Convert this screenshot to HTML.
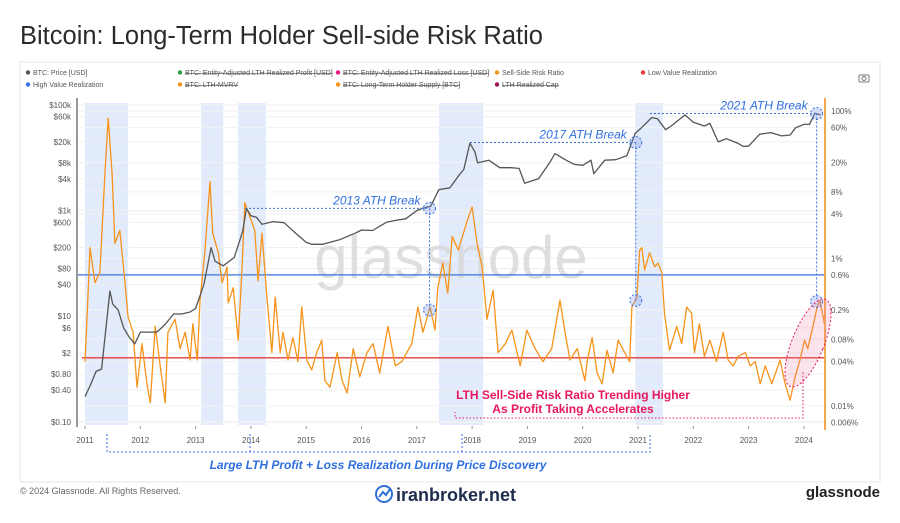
<!DOCTYPE html>
<html><head><meta charset="utf-8"><style>
body{margin:0;background:#fff;width:900px;height:518px;overflow:hidden;font-family:"Liberation Sans",sans-serif;}
</style></head><body>
<svg id="c" width="900" height="518" viewBox="0 0 900 518" xmlns="http://www.w3.org/2000/svg" font-family="Liberation Sans, sans-serif">
<text x="20" y="44" font-size="25.5" fill="#2b2b2b">Bitcoin: Long-Term Holder Sell-side Risk Ratio</text>
<rect x="20" y="62" width="860" height="420" fill="none" stroke="#e6e6e6"/>
<g id="legend" font-size="7" fill="#555"></g>
<g><rect x="859" y="75" width="10" height="7" rx="1" fill="none" stroke="#777"/><circle cx="864" cy="78.5" r="2" fill="none" stroke="#777"/></g>
<g id="bands"></g><g id="grid"></g>
<text x="451" y="278" font-size="60" fill="#d8d8d8" text-anchor="middle" opacity="0.8">glassnode</text>
<g id="series"></g><g id="axes"></g><g id="ann"></g>
<text x="20" y="494" font-size="9" fill="#666">© 2024 Glassnode. All Rights Reserved.</text>
<g><circle cx="384" cy="494" r="8" fill="none" stroke="#2f6fd6" stroke-width="2"/><path d="M379 497 L383 492 L386 495 L390 489" stroke="#2f6fd6" stroke-width="2" fill="none"/><text x="396" y="501" font-size="18" font-weight="bold" fill="#1f2d4d">iranbroker.net</text></g>
<text x="880" y="497" font-size="15" font-weight="bold" fill="#222" text-anchor="end">glassnode</text>
</svg>
<script>
const priceYears=[2011.0,2011.1,2011.2,2011.3,2011.42,2011.45,2011.5,2011.6,2011.7,2011.8,2011.9,2012.0,2012.15,2012.3,2012.45,2012.6,2012.75,2012.9,2013.0,2013.15,2013.28,2013.35,2013.5,2013.7,2013.85,2013.92,2014.0,2014.1,2014.2,2014.4,2014.6,2014.8,2015.0,2015.1,2015.3,2015.6,2015.9,2016.0,2016.2,2016.45,2016.6,2016.8,2017.0,2017.1,2017.25,2017.4,2017.6,2017.75,2017.85,2017.96,2018.05,2018.1,2018.3,2018.5,2018.7,2018.85,2018.95,2019.2,2019.4,2019.5,2019.7,2019.85,2020.0,2020.15,2020.2,2020.4,2020.6,2020.8,2020.95,2021.05,2021.25,2021.35,2021.5,2021.6,2021.85,2022.0,2022.2,2022.3,2022.45,2022.6,2022.8,2022.9,2023.0,2023.2,2023.4,2023.6,2023.75,2023.85,2024.0,2024.1,2024.2,2024.3];
const priceValues=[0.3,0.5,0.9,1.0,15,30,17,13,6,4,3,5,5,5,7,11,11,12,14,40,200,110,90,130,400,1100,800,750,550,620,590,380,250,230,230,280,380,430,420,600,650,700,1000,1100,1200,2500,2700,4500,6000,19000,13000,8000,9000,6500,6500,6300,3300,4000,8000,12000,9000,7500,7200,9000,5000,9000,9200,11000,29000,36000,58000,55000,34000,40000,65000,47000,40000,45000,20000,23000,19000,16500,16600,28000,30000,26000,27000,37000,43000,43000,70000,65000];
const riskYears=[2011.0,2011.05,2011.09,2011.18,2011.27,2011.36,2011.42,2011.49,2011.54,2011.63,2011.72,2011.78,2011.87,2011.94,2012.03,2012.12,2012.18,2012.27,2012.36,2012.45,2012.5,2012.63,2012.72,2012.81,2012.9,2012.95,2013.03,2013.08,2013.17,2013.26,2013.31,2013.41,2013.48,2013.57,2013.59,2013.68,2013.77,2013.84,2013.89,2013.98,2014.07,2014.13,2014.2,2014.29,2014.38,2014.44,2014.53,2014.58,2014.67,2014.76,2014.85,2014.92,2015.01,2015.1,2015.19,2015.28,2015.34,2015.43,2015.56,2015.65,2015.74,2015.85,2015.97,2016.1,2016.21,2016.33,2016.48,2016.61,2016.73,2016.82,2016.91,2017.02,2017.11,2017.24,2017.33,2017.38,2017.47,2017.56,2017.64,2017.75,2017.91,2018.0,2018.09,2018.18,2018.27,2018.38,2018.47,2018.6,2018.72,2018.87,2018.99,2019.14,2019.28,2019.44,2019.59,2019.68,2019.77,2019.9,2020.04,2020.08,2020.17,2020.26,2020.35,2020.44,2020.55,2020.64,2020.76,2020.85,2020.89,2020.98,2021.03,2021.07,2021.12,2021.21,2021.3,2021.36,2021.43,2021.48,2021.57,2021.7,2021.79,2021.88,2021.97,2022.02,2022.11,2022.2,2022.3,2022.42,2022.54,2022.63,2022.72,2022.81,2022.94,2023.03,2023.12,2023.21,2023.3,2023.42,2023.57,2023.66,2023.75,2023.84,2023.93,2024.01,2024.07,2024.14,2024.24,2024.29,2024.38];
const riskValues=[0.04,0.27,1.4,0.47,0.65,14,80,14,1.6,2.4,0.5,0.16,0.1,0.018,0.07,0.02,0.011,0.12,0.035,0.011,0.1,0.15,0.06,0.1,0.042,0.13,0.042,0.27,1.3,11,2.2,1.2,0.47,0.77,0.25,0.4,0.078,0.77,5.7,3.7,2.4,0.5,2.2,0.3,0.053,0.3,0.053,0.1,0.042,0.085,0.04,0.22,0.042,0.031,0.053,0.078,0.022,0.018,0.053,0.022,0.015,0.06,0.025,0.053,0.07,0.028,0.12,0.035,0.04,0.053,0.07,0.22,0.1,0.22,0.107,0.4,0.87,0.34,2,1.3,3.2,5,1.6,0.77,0.15,0.37,0.053,0.07,0.107,0.035,0.107,0.06,0.04,0.06,0.27,0.1,0.042,0.06,0.022,0.04,0.085,0.028,0.02,0.057,0.028,0.078,0.053,0.04,0.22,0.3,1.3,1.4,0.7,1.2,0.77,0.87,0.65,0.18,0.057,0.12,0.07,0.22,0.18,0.053,0.13,0.047,0.078,0.04,0.1,0.042,0.035,0.047,0.053,0.035,0.04,0.02,0.035,0.02,0.042,0.02,0.012,0.025,0.042,0.078,0.06,0.1,0.22,0.27,0.12];
const xTickYears=[2011,2012,2013,2014,2015,2016,2017,2018,2019,2020,2021,2022,2023,2024];
const leftTickValues=[100000,60000,20000,8000,4000,1000,600,200,80,40,10,6,2,0.8,0.4,0.1];
const leftTickLabels=["$100k","$60k","$20k","$8k","$4k","$1k","$600","$200","$80","$40","$10","$6","$2","$0.80","$0.40","$0.10"];
const rightTickValues=[100,60,20,8,4,1,0.6,0.2,0.08,0.04,0.01,0.006];
const rightTickLabels=["100%","60%","20%","8%","4%","1%","0.6%","0.2%","0.08%","0.04%","0.01%","0.006%"];
const bandRanges=[[2011.0,2011.78],[2013.1,2013.5],[2013.77,2014.27],[2017.4,2018.2],[2020.95,2021.45]];
const highValueLevel=0.6, lowValueLevel=0.045;
const athYears=[2017.23,2020.96,2024.23];
const athPrices=[1100,19500,69000];
const athRisk=[0.2,0.27,0.26];
const athLabels=["2013 ATH Break","2017 ATH Break","2021 ATH Break"];

const NS="http://www.w3.org/2000/svg";
const X=y=>85+(y-2011)*55.3;
const YL=p=>105+(5-Math.log10(p))*52.8;
const YR=r=>111+(2-Math.log10(r))*73.75;
function mk(tag,attrs,parent){const e=document.createElementNS(NS,tag);for(const k in attrs)e.setAttribute(k,attrs[k]);parent.appendChild(e);return e;}
const g=id=>document.getElementById(id);

const leg=[["BTC: Price [USD]","#555",33,75,false],["BTC: Entity-Adjusted LTH Realized Profit [USD]","#2e9e4a",185,75,true],["BTC: Entity-Adjusted LTH Realized Loss [USD]","#e8177d",343,75,true],["Sell-Side Risk Ratio","#f7931a",502,75,false],["Low Value Realization","#e23b3b",648,75,false],["High Value Realization","#3a72e0",33,87,false],["BTC: LTH-MVRV","#f7931a",185,87,true],["BTC: Long-Term Holder Supply [BTC]","#f7931a",343,87,true],["LTH Realized Cap","#a01050",502,87,true]];
leg.forEach(l=>{const it=mk('g',{},g('legend'));


mk('circle',{cx:l[2]-5,cy:l[3]-2.5,r:2.2,fill:l[1]},it);
const t=mk('text',{x:l[2],y:l[3],'text-decoration':l[4]?'line-through':'none'},it);t.textContent=l[0];});

bandRanges.forEach(b=>{const r=mk('rect',{x:X(b[0]),y:103,width:X(b[1])-X(b[0]),height:322,fill:'#dce8fb',opacity:0.85},g('bands'));

});

leftTickValues.forEach((v,i)=>{const y=YL(v);
mk('line',{x1:78,x2:824,y1:y,y2:y,stroke:'#efefef','stroke-width':1},g('grid'));
const t=mk('text',{x:71,y:y+3,'font-size':8,fill:'#555','text-anchor':'end'},g('axes'));


t.textContent=leftTickLabels[i];});
rightTickValues.forEach((v,i)=>{const y=YR(v);
mk('line',{x1:78,x2:824,y1:y,y2:y,stroke:'#f3f3f3','stroke-width':1},g('grid'));
const t=mk('text',{x:831,y:y+3,'font-size':8,fill:'#555'},g('axes'));


t.textContent=rightTickLabels[i];});
xTickYears.forEach(yr=>{const t=mk('text',{x:X(yr),y:443,'font-size':8,fill:'#555','text-anchor':'middle'},g('axes'));


t.textContent=String(yr);
mk('line',{x1:X(yr),x2:X(yr),y1:426,y2:429,stroke:'#999'},g('axes'));});
const la=mk('line',{x1:77,x2:77,y1:98,y2:427,stroke:'#555','stroke-width':1.2},g('axes'));


const ra=mk('line',{x1:825,x2:825,y1:98,y2:430,stroke:'#f7a84a','stroke-width':2},g('axes'));



const hl=mk('line',{x1:78,x2:824,y1:YR(highValueLevel),y2:YR(highValueLevel),stroke:'#3a72e0','stroke-width':1.3},g('series'));


const ll=mk('line',{x1:82,x2:824,y1:YR(lowValueLevel),y2:YR(lowValueLevel),stroke:'#e23b3b','stroke-width':1.3},g('series'));



const rp=mk('path',{d:riskYears.map((y,i)=>(i?'L':'M')+X(y).toFixed(1)+' '+YR(riskValues[i]).toFixed(1)).join(''),fill:'none',stroke:'#f7931a','stroke-width':1.3,'stroke-linejoin':'round'},g('series'));


const pp=mk('path',{d:priceYears.map((y,i)=>(i?'L':'M')+X(y).toFixed(1)+' '+YL(priceValues[i]).toFixed(1)).join(''),fill:'none',stroke:'#555','stroke-width':1.3,'stroke-linejoin':'round'},g('series'));



const A=g('ann');
const hx=[245,470,650];
athYears.forEach((yr,i)=>{const x=X(yr),yp=YL(athPrices[i]),yr2=YR(athRisk[i]);
mk('path',{d:`M${hx[i]} ${yp}L${x} ${yp}M${x} ${yp}L${x} ${yr2}`,stroke:'#3a72e0','stroke-width':1,'stroke-dasharray':'2,2',fill:'none'},A);
[yp,yr2].forEach(cy=>{const c=mk('circle',{cx:x,cy:cy,r:6,fill:'rgba(120,150,230,0.3)',stroke:'#3a72e0','stroke-dasharray':'2,2'},A);

});
const t=mk('text',{x:x-9,y:yp-4,'font-size':12,'font-style':'italic',fill:'#2f6fe0','text-anchor':'end'},A);


t.textContent=athLabels[i];});
const el=mk('ellipse',{cx:808,cy:343,rx:16,ry:47,transform:'rotate(22 808 343)',fill:'rgba(240,120,160,0.2)',stroke:'#e8175d','stroke-dasharray':'2,2'},A);


mk('path',{d:'M803 372L803 418L455 418L455 412',stroke:'#e8175d','stroke-dasharray':'1.5,2',fill:'none'},A);
const p1=mk('text',{x:573,y:399,'font-size':12,'font-weight':'bold',fill:'#e8175d','text-anchor':'middle'},A);


p1.textContent='LTH Sell-Side Risk Ratio Trending Higher';
const p2=mk('text',{x:573,y:413,'font-size':12,'font-weight':'bold',fill:'#e8175d','text-anchor':'middle'},A);


p2.textContent='As Profit Taking Accelerates';
mk('path',{d:'M107 434L107 452L650 452L650 434M250 434L250 452M462 434L462 452',stroke:'#3a72e0','stroke-dasharray':'2,2',fill:'none'},A);
const bt=mk('text',{x:378,y:469,'font-size':12,'font-weight':'bold','font-style':'italic',fill:'#2f6fe0','text-anchor':'middle'},A);


bt.textContent='Large LTH Profit + Loss Realization During Price Discovery';
</script>
</body></html>
